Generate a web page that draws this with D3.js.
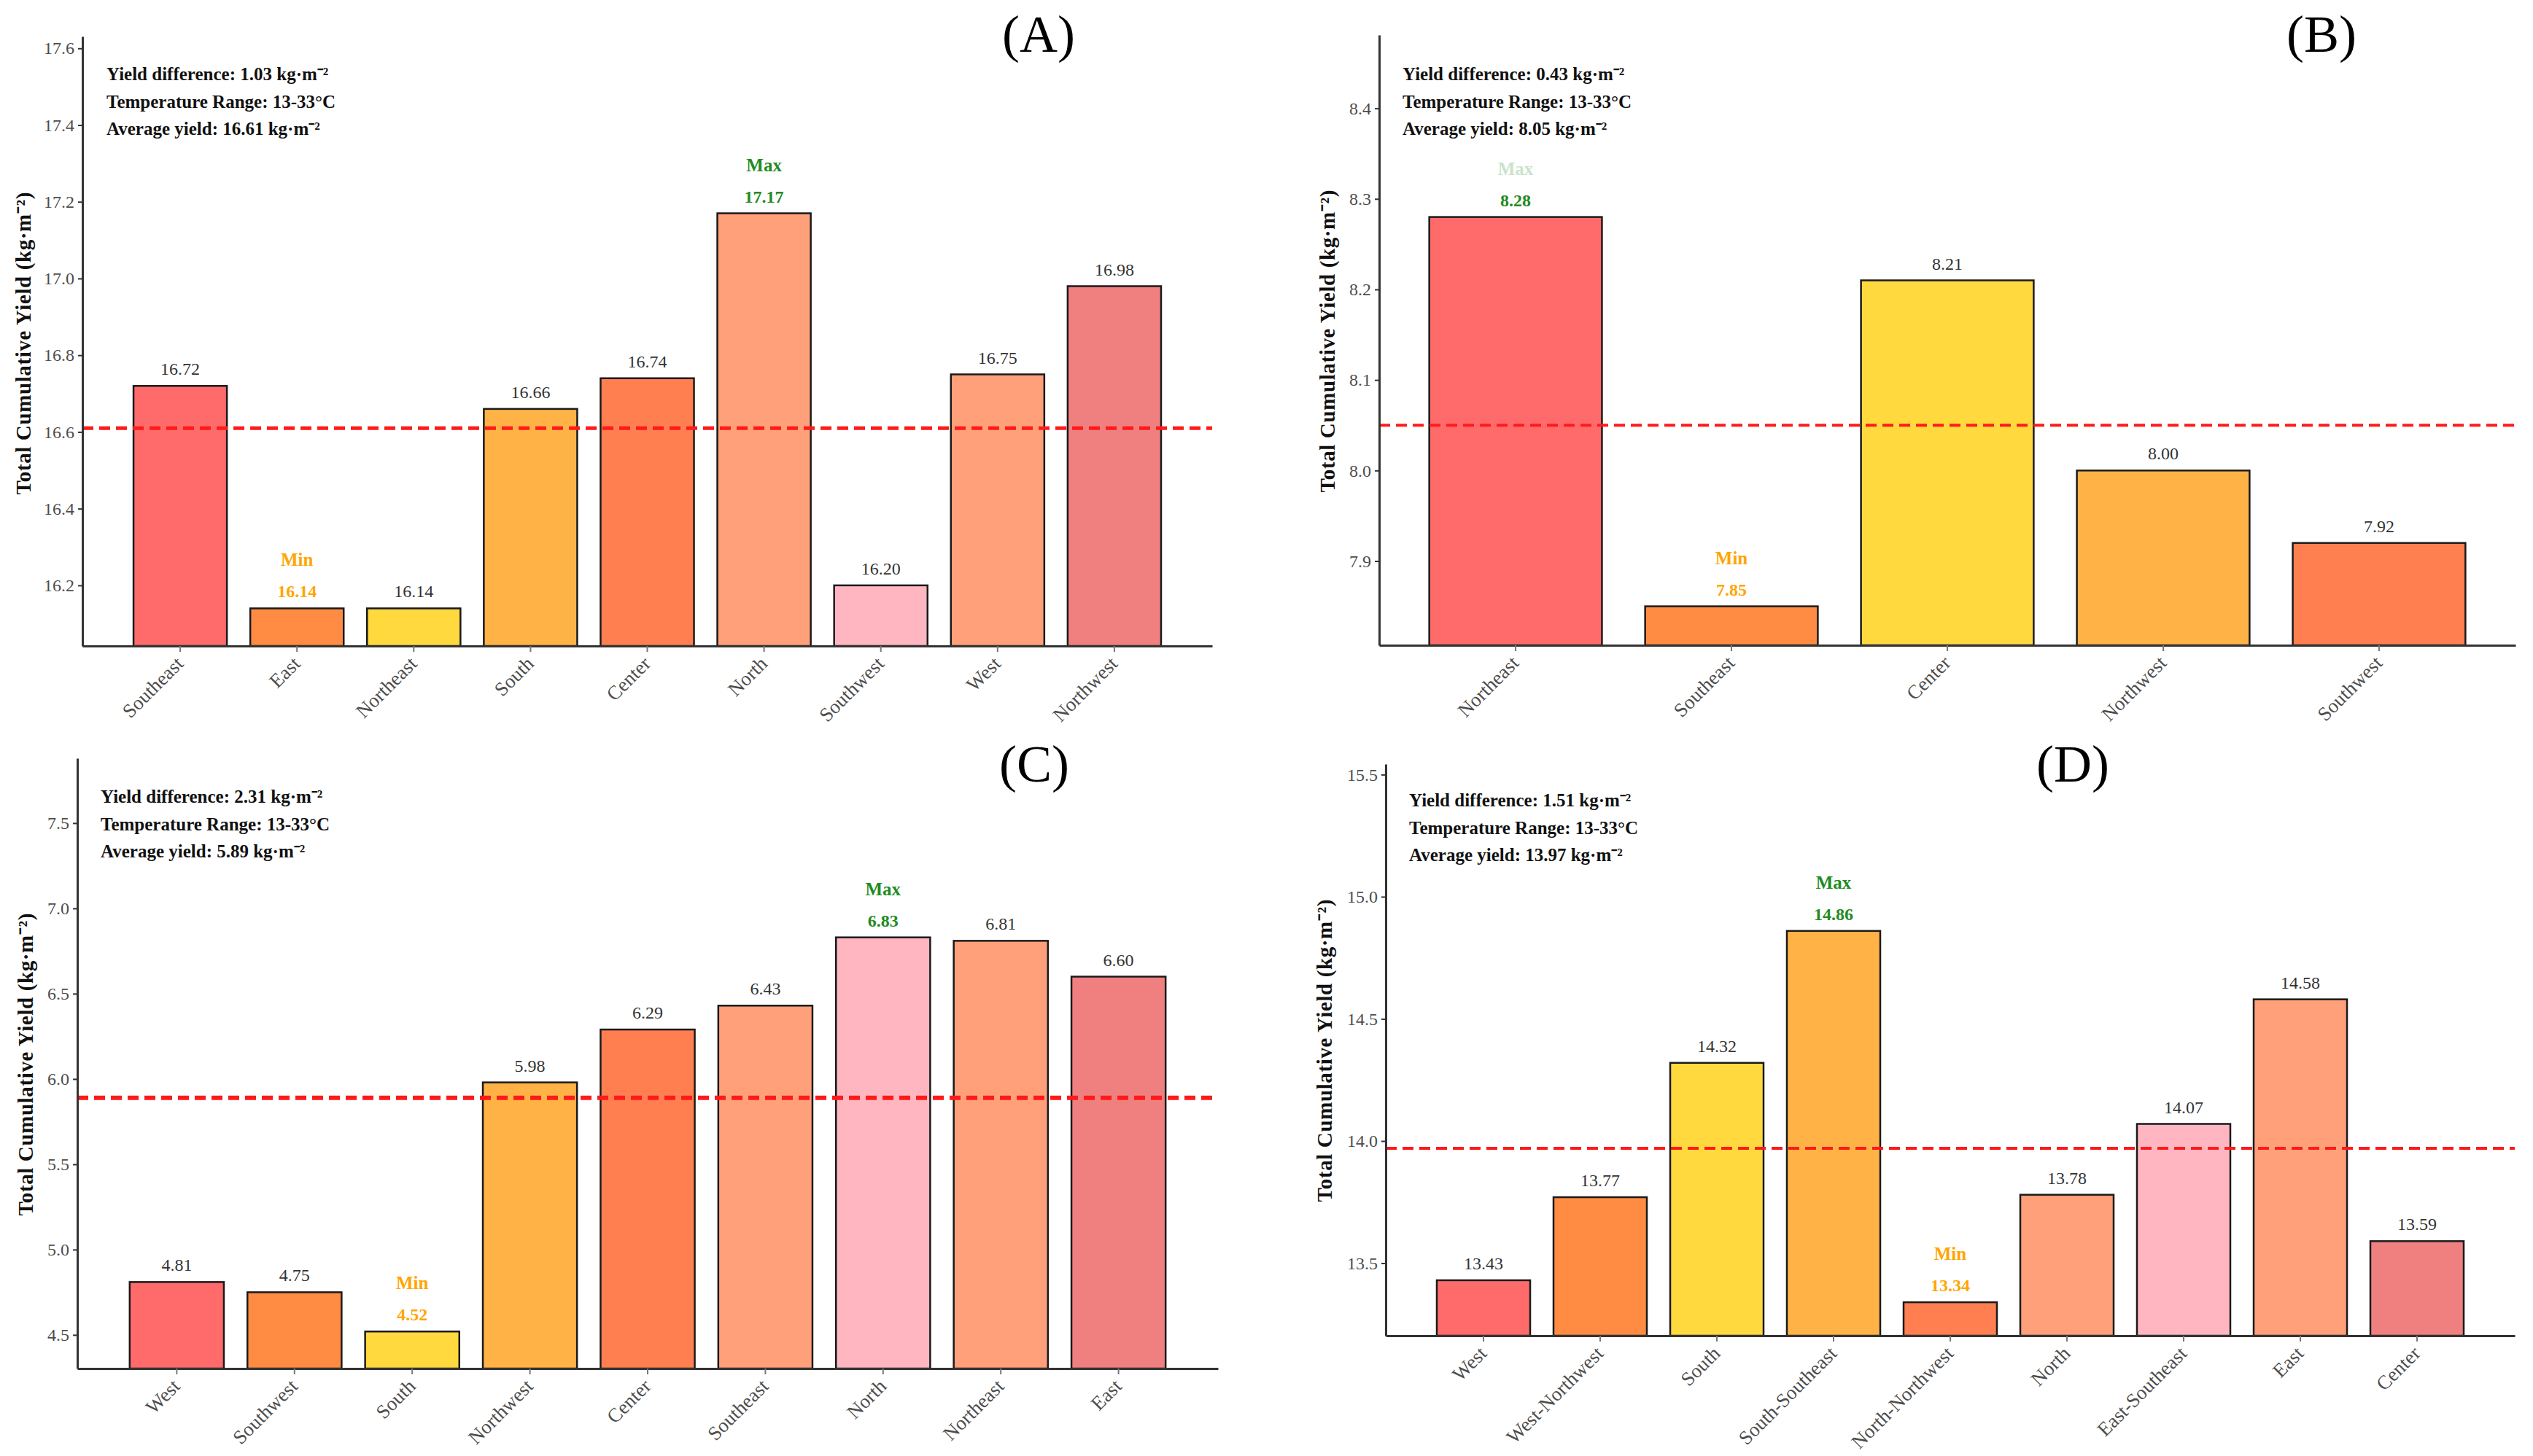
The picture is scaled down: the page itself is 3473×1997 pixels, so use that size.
<!DOCTYPE html>
<html lang="en">
<head>
  <meta charset="UTF-8" />
  <title>Total Cumulative Yield by Orientation</title>
  <script src="https://d3js.org/d3.v7.min.js"></script>
  <style>
    body {
      margin: 0;
      padding: 0;
      background: white;
    }
    svg {
      display: block;
      font-family: "Liberation Serif", "Times New Roman", serif;
    }
  </style>
</head>
<body>
  <svg id="chart" width="3473" height="1997"></svg>

  <script>
    // Panel (A)
    const catsA = ["Southeast", "East", "Northeast", "South", "Center", "North", "Southwest", "West", "Northwest"];
    const valsA = [16.72, 16.14, 16.14, 16.66, 16.74, 17.17, 16.20, 16.75, 16.98];
    const avgA = 16.61;
    const ticksA = [16.2, 16.4, 16.6, 16.8, 17.0, 17.2, 17.4, 17.6];
    const limA = [16.042, 17.631];
    const notesA = ["Yield difference: 1.03 kg·m⁻²", "Temperature Range: 13-33°C", "Average yield: 16.61 kg·m⁻²"];

    // Panel (B)
    const catsB = ["Northeast", "Southeast", "Center", "Northwest", "Southwest"];
    const valsB = [8.28, 7.85, 8.21, 8.00, 7.92];
    const avgB = 8.05;
    const ticksB = [7.9, 8.0, 8.1, 8.2, 8.3, 8.4];
    const limB = [7.807, 8.481];
    const notesB = ["Yield difference: 0.43 kg·m⁻²", "Temperature Range: 13-33°C", "Average yield: 8.05 kg·m⁻²"];

    // Panel (C)
    const catsC = ["West", "Southwest", "South", "Northwest", "Center", "Southeast", "North", "Northeast", "East"];
    const valsC = [4.81, 4.75, 4.52, 5.98, 6.29, 6.43, 6.83, 6.81, 6.60];
    const avgC = 5.89;
    const ticksC = [4.5, 5.0, 5.5, 6.0, 6.5, 7.0, 7.5];
    const limC = [4.303, 7.88];
    const notesC = ["Yield difference: 2.31 kg·m⁻²", "Temperature Range: 13-33°C", "Average yield: 5.89 kg·m⁻²"];

    // Panel (D)
    const catsD = ["West", "West-Northwest", "South", "South-Southeast", "North-Northwest", "North", "East-Southeast", "East", "Center"];
    const valsD = [13.43, 13.77, 14.32, 14.86, 13.34, 13.78, 14.07, 14.58, 13.59];
    const avgD = 13.97;
    const ticksD = [13.5, 14.0, 14.5, 15.0, 15.5];
    const limD = [13.203, 15.543];
    const notesD = ["Yield difference: 1.51 kg·m⁻²", "Temperature Range: 13-33°C", "Average yield: 13.97 kg·m⁻²"];

    // bar fills go by position
    const palette = ["#FF6B6B", "#FF8C42", "#FFD93D", "#FFB347", "#FF7F50", "#FFA07A", "#FFB6C1", "#FFA07A", "#F08080"];

    const yTitle = "Total Cumulative Yield (kg·m⁻²)";

    const panels = [
      { tag: "(A)", cats: catsA, vals: valsA, avg: avgA, ticks: ticksA, lim: limA, notes: notesA,
        left: 113, right: 1662, top: 50, bottom: 886, outer: 0.4375,
        titleX: 1424, titleY: 71, noteX: 146, noteY: 110, yLabX: 32, yLabY: 471,
        dashW: 5, maxColor: "#228B22" },
      { tag: "(B)", cats: catsB, vals: valsB, avg: avgB, ticks: ticksB, lim: limB, notes: notesB,
        left: 1891, right: 3449, top: 48, bottom: 885, outer: 0.232,
        titleX: 3183, titleY: 71, noteX: 1923, noteY: 110, yLabX: 1820, yLabY: 468,
        dashW: 4, maxColor: "#c9e3c9" },
      { tag: "(C)", cats: catsC, vals: valsC, avg: avgC, ticks: ticksC, lim: limC, notes: notesC,
        left: 106, right: 1670, top: 1040, bottom: 1877, outer: 0.445,
        titleX: 1418, titleY: 1072, noteX: 138, noteY: 1101, yLabX: 35, yLabY: 1460,
        dashW: 6, maxColor: "#228B22" },
      { tag: "(D)", cats: catsD, vals: valsD, avg: avgD, ticks: ticksD, lim: limD, notes: notesD,
        left: 1900, right: 3448, top: 1048, bottom: 1832, outer: 0.4375,
        titleX: 2842, titleY: 1072, noteX: 1932, noteY: 1106, yLabX: 1816, yLabY: 1441,
        dashW: 4, maxColor: "#228B22" }
    ];

    const svg = d3.select("#chart");
    svg.append("rect").attr("width", 3473).attr("height", 1997).attr("fill", "white");

    panels.forEach(p => drawPanel(p));

    function drawPanel(p) {
      const g = svg.append("g");

      const x = d3.scaleBand()
        .domain(p.cats)
        .range([p.left, p.right])
        .paddingInner(0.2)
        .paddingOuter(p.outer);

      const y = d3.scaleLinear()
        .domain(p.lim)
        .range([p.bottom, p.top]);

      const data = p.cats.map((c, i) => ({ cat: c, val: p.vals[i], color: palette[i] }));
      const maxI = p.vals.indexOf(d3.max(p.vals));
      const minI = p.vals.indexOf(d3.min(p.vals));

      // bars
      g.selectAll(".bar")
        .data(data)
        .enter()
        .append("rect")
        .attr("x", d => x(d.cat))
        .attr("width", x.bandwidth())
        .attr("y", d => y(d.val))
        .attr("height", d => p.bottom - y(d.val))
        .attr("fill", d => d.color)
        .attr("stroke", "#1a1a1a")
        .attr("stroke-width", 2.5);

      // average line
      g.append("line")
        .attr("x1", p.left)
        .attr("x2", p.right)
        .attr("y1", y(p.avg))
        .attr("y2", y(p.avg))
        .attr("stroke", "#FF1A1A")
        .attr("stroke-width", p.dashW)
        .attr("stroke-dasharray", "15,8");

      // axes
      const yAxis = g.append("g")
        .attr("transform", `translate(${p.left},0)`)
        .call(d3.axisLeft(y).tickValues(p.ticks).tickFormat(d3.format(".1f")).tickSize(6).tickSizeOuter(0).tickPadding(5));
      yAxis.select(".domain").attr("stroke", "#333").attr("stroke-width", 3);
      yAxis.selectAll(".tick line").attr("stroke", "#333").attr("stroke-width", 2);
      yAxis.selectAll(".tick text")
        .attr("fill", "#4d4d4d")
        .style("font-size", "24px")
        .style("font-family", "'Liberation Serif', serif");

      const xAxis = g.append("g")
        .attr("transform", `translate(0,${p.bottom})`)
        .call(d3.axisBottom(x).tickSize(8).tickSizeOuter(0));
      xAxis.select(".domain").attr("stroke", "#333").attr("stroke-width", 3);
      xAxis.selectAll(".tick line").attr("stroke", "#777").attr("stroke-width", 2);
      xAxis.selectAll(".tick text")
        .attr("x", 0)
        .attr("y", 0)
        .attr("dy", null)
        .attr("transform", "translate(6,26) rotate(-45)")
        .style("text-anchor", "end")
        .attr("fill", "#4d4d4d")
        .style("font-size", "27px")
        .style("font-family", "'Liberation Serif', serif");

      // value labels
      g.selectAll(".val")
        .data(data)
        .enter()
        .append("text")
        .attr("x", d => x(d.cat) + x.bandwidth() / 2)
        .attr("y", d => y(d.val) - 15)
        .attr("text-anchor", "middle")
        .style("font-size", "24px")
        .style("font-weight", (d, i) => (i === maxI || i === minI) ? "bold" : "normal")
        .attr("fill", (d, i) => i === maxI ? "#228B22" : i === minI ? "#FFA500" : "#333")
        .text(d => d.val.toFixed(2));

      // Max / Min tags
      [[maxI, "Max", p.maxColor], [minI, "Min", "#FFA500"]].forEach(([i, label, col]) => {
        g.append("text")
          .attr("x", x(p.cats[i]) + x.bandwidth() / 2)
          .attr("y", y(p.vals[i]) - 58)
          .attr("text-anchor", "middle")
          .style("font-size", "25px")
          .style("font-weight", "bold")
          .attr("fill", col)
          .text(label);
      });

      // notes in the corner
      g.selectAll(".note")
        .data(p.notes)
        .enter()
        .append("text")
        .attr("x", p.noteX)
        .attr("y", (d, i) => p.noteY + i * 37.5)
        .style("font-size", "25px")
        .style("font-weight", "bold")
        .attr("fill", "#111")
        .text(d => d);

      // y title
      g.append("text")
        .attr("transform", `translate(${p.yLabX},${p.yLabY}) rotate(-90)`)
        .attr("text-anchor", "middle")
        .attr("dy", "0.35em")
        .attr("textLength", 415)
        .attr("lengthAdjust", "spacing")
        .style("font-size", "29px")
        .style("font-weight", "bold")
        .attr("fill", "#111")
        .text(yTitle);

      // panel tag
      g.append("text")
        .attr("x", p.titleX)
        .attr("y", p.titleY)
        .attr("text-anchor", "middle")
        .style("font-size", "72px")
        .attr("fill", "#000")
        .text(p.tag);
    }
  </script>
</body>
</html>
